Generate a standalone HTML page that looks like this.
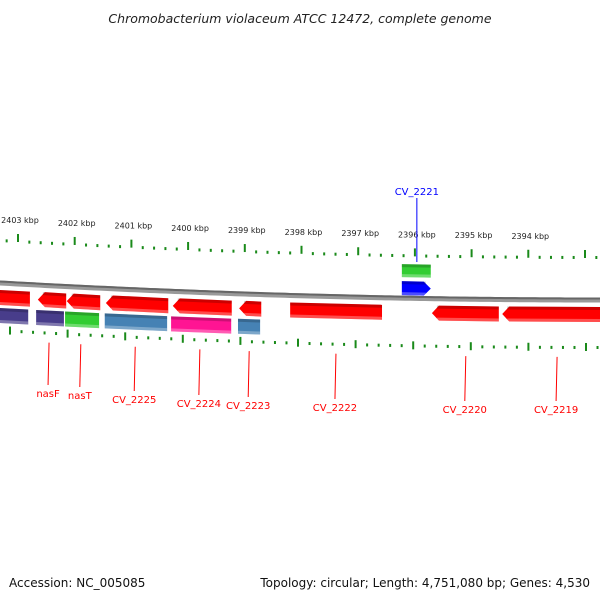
<!DOCTYPE html>
<html><head><meta charset="utf-8"><style>
html,body{margin:0;padding:0;background:#fff;}
svg{display:block;font-family:"DejaVu Sans","Liberation Sans",sans-serif;}
</style></head><body>
<svg id="map" width="600" height="600" viewBox="0 0 600 600" xmlns="http://www.w3.org/2000/svg">
<text x="300" y="23" text-anchor="middle" font-size="12.5" font-style="italic" fill="#222">Chromobacterium violaceum ATCC 12472, complete genome</text>
<text x="9" y="587" font-size="12" fill="#111">Accession: NC_005085</text>
<text x="590" y="587" text-anchor="end" font-size="12" fill="#111">Topology: circular; Length: 4,751,080 bp; Genes: 4,530</text>
<g id="g"></g>
</svg>
<script>
// data
const majorTicks=[2403,2402,2401,2400,2399,2398,2397,2396,2395,2394,2393];
const tickLabels=["2403 kbp","2402 kbp","2401 kbp","2400 kbp","2399 kbp","2398 kbp","2397 kbp","2396 kbp","2395 kbp","2394 kbp",""];
const reverseStarts=[2403.32,2402.65,2402.14,2401.45,2400.27,2399.10,2398.20,2395.70,2394.46];
const reverseEnds=[2402.79,2402.15,2401.55,2400.35,2399.23,2398.71,2396.58,2394.52,2392.60];
const reverseArrow=[false,true,true,true,true,true,false,true,true];
const cogStarts=[2403.32,2402.68,2402.17,2401.47,2400.30,2399.12];
const cogEnds=[2402.82,2402.19,2401.57,2400.37,2399.24,2398.73];
const cogColors=["#483d8b","#483d8b","#32cd32","#4682b4","#ff1493","#4682b4"];
const fwdStart=[2396.23], fwdEnd=[2395.72];
const labelNames=["nasF","nasT","CV_2225","CV_2224","CV_2223","CV_2222","CV_2220","CV_2219"];
const labelPos=[2402.47,2401.91,2400.95,2399.81,2398.94,2397.41,2395.12,2393.51];
const labelY=[397,399,403,407,409,411,413,413];

const NS="http://www.w3.org/2000/svg";
const G=document.getElementById('g');
function X(k){return 18+(2403-k)*56.7;}
function Xb(k){return 10+(2403-k)*57.6;}
function Y(x){return 300-17/360000*(x-600)*(x-600);}
function el(t,a){const e=document.createElementNS(NS,t);for(const k in a)e.setAttribute(k,a[k]);G.appendChild(e);return e;}

for(let k=2403.6;k>=2392.6;k-=0.2){
  const kk=Math.round(k*10)/10;
  const major=Math.abs(kk-Math.round(kk))<0.01;
  let x=X(kk), y=Y(x);
  let t=el('rect',{x:x-1,y:major?y-50:y-44,width:2,height:major?8:3,fill:'#1a8a1a'});
  
  
  x=Xb(kk); y=Y(x);
  t=el('rect',{x:x-1,y:major?y+43:y+46,width:2,height:major?8:3,fill:'#1a8a1a'});
  
  
}
majorTicks.forEach((k,i)=>{
  const x=X(k);
  const t=el('text',{x:x+2,y:Y(x)-61,'text-anchor':'middle','font-size':'8',fill:'#222'});
  t.textContent=tickLabels[i];
  
  
});

let d='';for(let x=-5;x<=605;x+=5){d+=(x==-5?'M':'L')+x+' '+Y(x).toFixed(2)+' ';}
let b=el('path',{d:d,stroke:'#999',"stroke-width":5,fill:'none'});


b=el('path',{d:d,stroke:'#666',"stroke-width":2,fill:'none',transform:'translate(0,-1.5)'});



function gene(x1,x2,o1,o2,color,arrow,name){
  const y1=Y(x1),y2=Y(x2),h=o2-o1,m=h/2;
  let pts;
  if(arrow==='L') pts=[[x1+7,y1+o1],[x2,y2+o1],[x2,y2+o2],[x1+7,y1+o2],[x1,y1+o1+m]];
  else if(arrow==='R') pts=[[x1,y1+o1],[x2-7,y2+o1],[x2,y2+o1+m],[x2-7,y2+o2],[x1,y1+o2]];
  else pts=[[x1,y1+o1],[x2,y2+o1],[x2,y2+o2],[x1,y1+o2]];
  const p=el('polygon',{points:pts.map(q=>q.join(',')).join(' '),fill:color});
  
  
  const s=el('polygon',{points:[[x1+(arrow==='L'?5:0),y1+o1],[x2-(arrow==='R'?5:0),y2+o1],[x2-(arrow==='R'?5:0),y2+o1+3],[x1+(arrow==='L'?5:0),y1+o1+3]].map(q=>q.join(',')).join(' '),fill:'#000',opacity:0.2});
  
  
  const l=el('polygon',{points:[[x1+(arrow==='L'?5:0),y1+o2-3],[x2-(arrow==='R'?5:0),y2+o2-3],[x2-(arrow==='R'?5:0),y2+o2],[x1+(arrow==='L'?5:0),y1+o2]].map(q=>q.join(',')).join(' '),fill:'#fff',opacity:0.3});
  
  
}
reverseStarts.forEach((s,i)=>gene(X(s),X(reverseEnds[i]),7,22,'#ff0000',reverseArrow[i]?'L':'','reverse-gene'));
cogStarts.forEach((s,i)=>gene(X(s),X(cogEnds[i]),25,40,cogColors[i],'','cog-gene'));
fwdStart.forEach((s,i)=>{
  gene(X(s),X(fwdEnd[i]),-34,-21,'#32cd32','','forward-cog-gene');
  gene(X(s),X(fwdEnd[i]),-17,-3,'#0000ff','R','forward-gene');
});

labelNames.forEach((n,i)=>{
  const x=X(labelPos[i]);
  const ln=el('line',{x1:x+1,y1:Y(x)+57,x2:x,y2:labelY[i]-12,stroke:'#ff0000','stroke-width':1});
  
  
  const t=el('text',{x:x,y:labelY[i],'text-anchor':'middle','font-size':'10',fill:'#ff0000'});
  t.textContent=n;
  
  
});
const cx=X(fwdStart[0])+15;
let ln=el('line',{x1:cx,y1:198,x2:cx,y2:262,stroke:'#0000ff','stroke-width':1});


let t=el('text',{x:cx,y:195,'text-anchor':'middle','font-size':'10',fill:'#0000ff'});
t.textContent='CV_2221';


</script>
</body></html>
